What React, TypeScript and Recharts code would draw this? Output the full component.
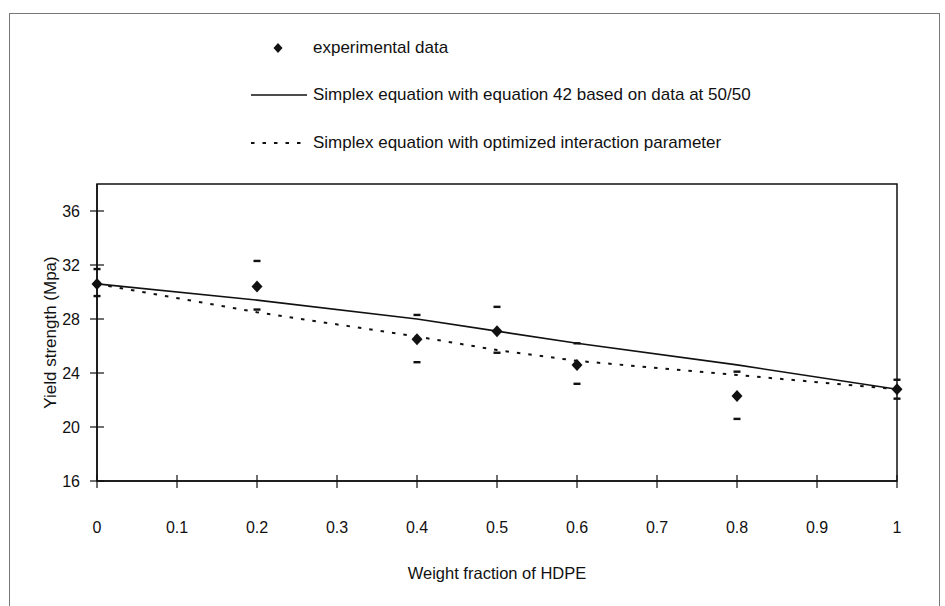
import { ComposedChart, Legend, Line, ReferenceArea, Scatter, XAxis, YAxis } from 'recharts'

// weight fraction of HDPE where the blends were measured
const fractions = [0, 0.2, 0.4, 0.5, 0.6, 0.8, 1]
// yield strength, MPa
const measured = [30.6, 30.4, 26.5, 27.1, 24.6, 22.3, 22.8]
const upperDash = [31.7, 32.3, 28.3, 28.9, 26.2, 24.1, 23.5]
const lowerDash = [29.7, 28.7, 24.8, 25.5, 23.2, 20.6, 22.1]
const simplex42 = [30.6, 29.4, 28.0, 27.1, 26.2, 24.6, 22.8]
const simplexOpt = [30.6, 28.5, 26.7, 25.7, 24.9, 23.85, 22.8]

const xTicks = [0, 0.1, 0.2, 0.3, 0.4, 0.5, 0.6, 0.7, 0.8, 0.9, 1]
const yTicks = [16, 20, 24, 28, 32, 36]

const seriesNames = [
  'experimental data',
  'Simplex equation with equation 42 based on data at 50/50',
  'Simplex equation with optimized interaction parameter',
]

const rows = fractions.map((x, i) => ({
  x,
  measured: measured[i],
  upper: upperDash[i],
  lower: lowerDash[i],
  simplex42: simplex42[i],
  simplexOpt: simplexOpt[i],
}))

const FONT = '"Liberation Sans", Arial, sans-serif'
const INK = '#111'
const DOTS = '3.5 8'

const Diamond = (p: any) => {
  const { cx, cy } = p
  return <path d={`M${cx},${cy - 6}L${cx + 5.5},${cy}L${cx},${cy + 6}L${cx - 5.5},${cy}Z`} fill={INK} />
}

const Dash = (p: any) => <rect x={p.cx - 3.5} y={p.cy - 1.2} width={7} height={2.4} fill={INK} />

const YTick = (p: any) => (
  <g>
    <line x1={p.x - 7} x2={p.x + 7} y1={p.y} y2={p.y} stroke={INK} strokeWidth={1.2} />
    <text x={p.x - 17} y={p.y} textAnchor="end" dominantBaseline="central" fontSize={16} fontFamily={FONT} fill={INK}>
      {p.payload.value}
    </text>
  </g>
)

const XTick = (p: any) => (
  <g>
    <line x1={p.x} x2={p.x} y1={p.y - 6} y2={p.y + 7} stroke={INK} strokeWidth={1.2} />
    <text x={p.x} y={p.y + 46} textAnchor="middle" dominantBaseline="central" fontSize={16} fontFamily={FONT} fill={INK}>
      {p.payload.value}
    </text>
  </g>
)

const rowTop = [48, 95, 143]

function LegendIcon({ kind }: { kind: number }) {
  if (kind === 0) return <path d="M28,7L32.5,12L28,17L23.5,12Z" fill={INK} />
  if (kind === 1) return <line x1={1} x2={57} y1={12} y2={12} stroke={INK} strokeWidth={1.5} />
  return <line x1={1} x2={51} y1={12} y2={12} stroke={INK} strokeWidth={1.8} strokeDasharray={DOTS} />
}

function renderLegend(props: any) {
  const shown = new Set((props.payload || []).map((e: any) => e.value))
  return (
    <div style={{ position: 'relative', width: 945, height: 184, fontFamily: FONT, fontSize: 17, color: INK }}>
      {seriesNames.map((name, i) =>
        shown.has(name) ? (
          <div key={name} style={{ position: 'absolute', left: 0, top: rowTop[i] - 12, height: 24, width: 945 }}>
            <svg width={60} height={24} style={{ position: 'absolute', left: 250, top: 0 }}>
              <LegendIcon kind={i} />
            </svg>
            <span style={{ position: 'absolute', left: 313, top: 1, lineHeight: '22px', whiteSpace: 'nowrap' }}>
              {name}
            </span>
          </div>
        ) : null,
      )}
    </div>
  )
}

export default function App() {
  return (
    <div style={{ position: 'absolute', left: 0, top: 0, width: 945, height: 606, overflow: 'hidden', background: '#fff' }}>
      <div style={{ position: 'absolute', left: 9, top: 13, width: 929, height: 640, border: '1px solid #777' }} />
      <div style={{ position: 'absolute', left: 0, top: 0 }}>
        <ComposedChart width={945} height={606} data={rows} margin={{ top: 184, right: 48, bottom: 27, left: 3 }}>
          <XAxis
            dataKey="x"
            type="number"
            domain={[0, 1]}
            ticks={xTicks}
            interval={0}
            height={98}
            tickSize={0}
            tickMargin={0}
            tick={<XTick />}
            stroke={INK}
            strokeWidth={1.5}
            label={{
              value: 'Weight fraction of HDPE',
              position: 'insideBottom',
              offset: 0,
              fontSize: 16.5,
              fontFamily: FONT,
              fill: INK,
            }}
          />
          <YAxis
            type="number"
            domain={[16, 38]}
            ticks={yTicks}
            interval={0}
            width={94}
            tickSize={0}
            tickMargin={0}
            tick={<YTick />}
            stroke={INK}
            strokeWidth={1.5}
            label={{
              value: 'Yield strength (Mpa)',
              angle: -90,
              position: 'center',
              fontSize: 17,
              fontFamily: FONT,
              fill: INK,
            }}
          />
          <ReferenceArea x1={0} x2={1} y1={16} y2={38} stroke={INK} strokeWidth={1.5} fill="none" fillOpacity={0} />
          <Legend
            content={renderLegend}
            layout="vertical"
            verticalAlign="middle"
            align="center"
            wrapperStyle={{ top: 0, left: 0, width: 945, height: 184 }}
          />
          <Line
            name={seriesNames[1]}
            dataKey="simplex42"
            type="linear"
            stroke={INK}
            strokeWidth={1.6}
            dot={false}
            isAnimationActive={false}
          />
          <Line
            name={seriesNames[2]}
            dataKey="simplexOpt"
            type="linear"
            stroke={INK}
            strokeWidth={2}
            strokeDasharray={DOTS}
            dot={false}
            isAnimationActive={false}
          />
          <Scatter name="upper" dataKey="upper" shape={<Dash />} legendType="none" isAnimationActive={false} />
          <Scatter name="lower" dataKey="lower" shape={<Dash />} legendType="none" isAnimationActive={false} />
          <Scatter
            name={seriesNames[0]}
            dataKey="measured"
            shape={<Diamond />}
            fill={INK}
            isAnimationActive={false}
          />
        </ComposedChart>
      </div>
    </div>
  )
}
